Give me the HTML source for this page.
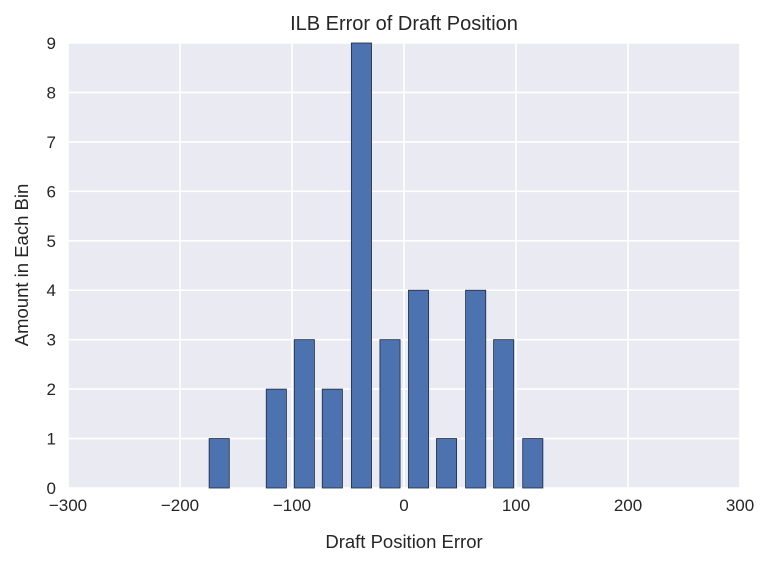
<!DOCTYPE html>
<html><head><meta charset="utf-8"><style>
body{margin:0;background:#fff;}
svg{display:block;font-family:"Liberation Sans",Arial,sans-serif;}
</style></head><body>
<svg id="chart" width="770" height="566" viewBox="0 0 770 566">
<rect x="68" y="43" width="672" height="445" fill="#eaeaf2"/>
<g id="grid"></g>
<g id="bars"></g>
<g id="ticks"></g>
<text x="404" y="30" text-anchor="middle" font-size="20" fill="#262626">ILB Error of Draft Position</text>
<text x="404" y="548" text-anchor="middle" font-size="18.5" fill="#262626">Draft Position Error</text>
<text transform="translate(28,265) rotate(-90)" text-anchor="middle" font-size="18.5" fill="#262626">Amount in Each Bin</text>
</svg>
<script>
const binCenters=[-165,-140,-114,-89,-64,-38,-12.5,13,38,64,89,115];
const counts=[1,0,2,3,2,9,3,4,1,4,3,1];
const xTicks=[-300,-200,-100,0,100,200,300];
const xTickLabels=["\u2212300","\u2212200","\u2212100","0","100","200","300"];
const yTicks=[0,1,2,3,4,5,6,7,8,9];
const binWidth=18;
const L=68,R=740,T=43,B=488;
const xs=v=>L+(v+300)/600*(R-L);
const ys=v=>B-v/9*(B-T);
const NS="http://www.w3.org/2000/svg";
const grid=document.getElementById('grid'),bars=document.getElementById('bars'),ticks=document.getElementById('ticks');
function mk(tag,attrs,parent){const e=document.createElementNS(NS,tag);for(const k in attrs)e.setAttribute(k,attrs[k]);parent.appendChild(e);return e;}
xTicks.forEach((t,i)=>{
 const l=mk('line',{x1:xs(t),x2:xs(t),y1:T,y2:B,stroke:'#fff','stroke-width':1.6},grid);
 
 
 const tx=mk('text',{x:xs(t),y:B+23,'text-anchor':'middle','font-size':17,fill:'#262626'},ticks);
 tx.textContent=xTickLabels[i];
 
 
});
yTicks.forEach(t=>{
 const l=mk('line',{x1:L,x2:R,y1:ys(t),y2:ys(t),stroke:'#fff','stroke-width':1.6},grid);
 
 
 const tx=mk('text',{x:L-12,y:ys(t)+6,'text-anchor':'end','font-size':17,fill:'#262626'},ticks);
 tx.textContent=t;
 
 
});
binCenters.forEach((c,i)=>{
 if(counts[i]<=0)return;
 const x0=xs(c-binWidth/2),x1=xs(c+binWidth/2);
 const r=mk('rect',{x:x0,y:ys(counts[i]),width:x1-x0,height:B-ys(counts[i]),fill:'#4c72b0',stroke:'#1f2a3c','stroke-width':0.8},bars);
 
 
});
</script>
</body></html>
